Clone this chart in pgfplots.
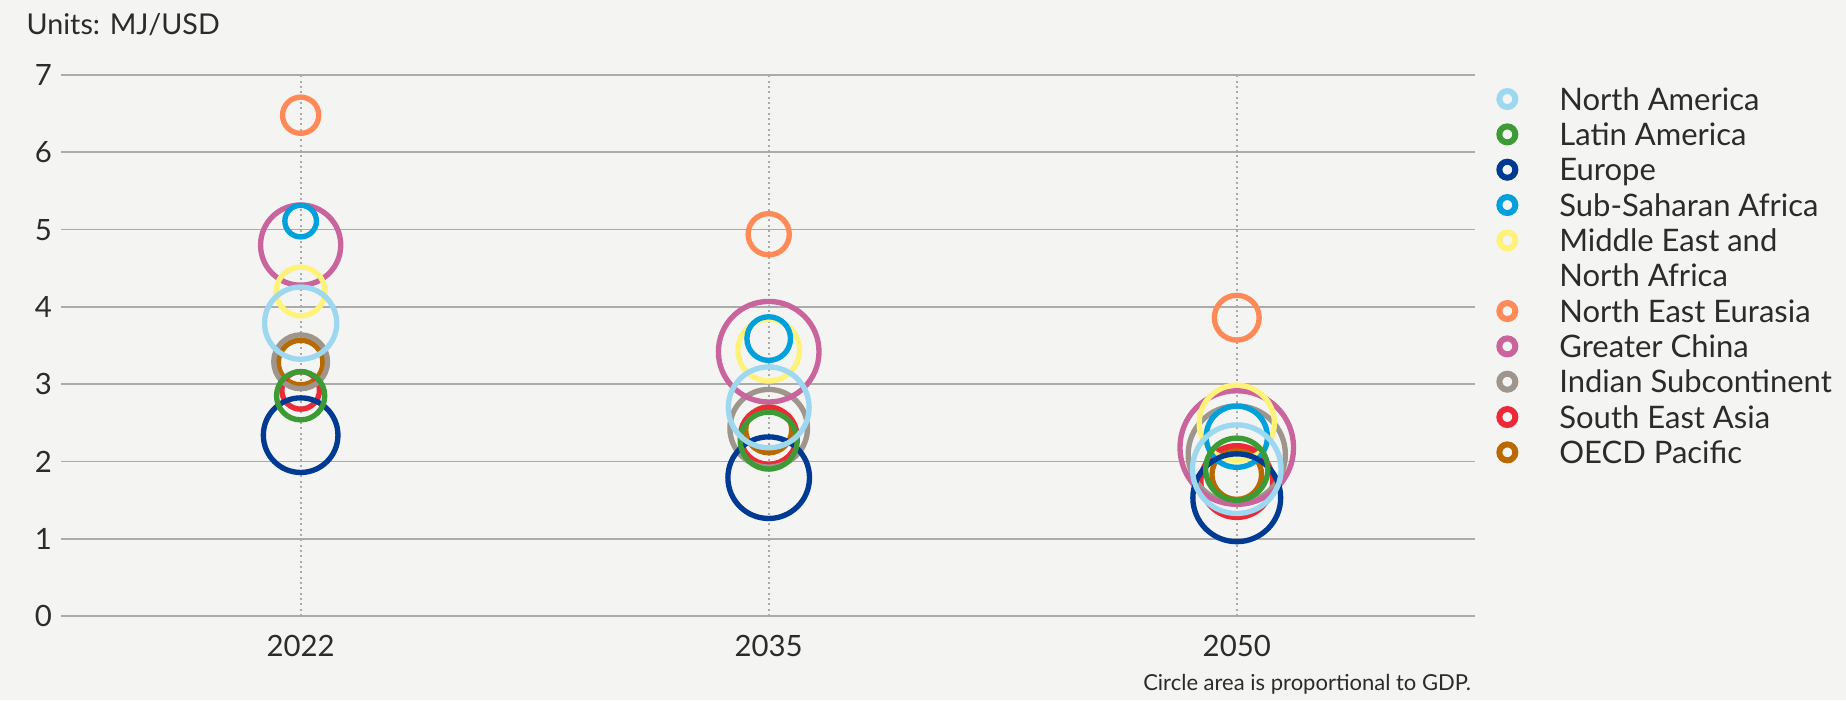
\documentclass[border=0pt]{standalone}
\usepackage{pgfplots}
\pgfplotsset{compat=1.18}
\usepackage{pgfplotstable}
\usepackage{fontspec}
\setmainfont{Lato}

\definecolor{bg}{HTML}{F4F4F2}
\definecolor{txt}{HTML}{2B2B2B}
\definecolor{gridc}{HTML}{ABABAB}
\definecolor{cNA}{HTML}{9DD8F0}
\definecolor{cLA}{HTML}{3D9B35}
\definecolor{cEU}{HTML}{003A93}
\definecolor{cSSA}{HTML}{00A0DD}
\definecolor{cMENA}{HTML}{FFF27A}
\definecolor{cNEE}{HTML}{FF8A57}
\definecolor{cGC}{HTML}{C9649C}
\definecolor{cIND}{HTML}{9E958C}
\definecolor{cSEA}{HTML}{EC2A37}
\definecolor{cOECD}{HTML}{B86A00}

% x: 0 = 2022, 1 = 2035, 2 = 2050; y in MJ/USD; r = circle radius (px of the reference)
\pgfplotstableread{
x y r
0 3.79 36.1
1 2.70 40.4
2 1.90 44.3
}\tNA
\pgfplotstableread{
x y r
0 2.85 24.1
1 2.27 28.5
2 1.90 31.1
}\tLA
\pgfplotstableread{
x y r
0 2.34 37.3
1 1.79 40.8
2 1.53 43.9
}\tEU
\pgfplotstableread{
x y r
0 5.11 15.8
1 3.59 21.8
2 2.32 30.6
}\tSSA
\pgfplotstableread{
x y r
0 4.20 24.4
1 3.44 30.8
2 2.50 37.6
}\tMENA
\pgfplotstableread{
x y r
0 6.48 18.1
1 4.94 20.6
2 3.86 22.4
}\tNEE
\pgfplotstableread{
x y r
0 4.80 40.1
1 3.42 50.3
2 2.18 56.8
}\tGC
\pgfplotstableread{
x y r
0 3.29 26.9
1 2.43 38.8
2 2.09 48.6
}\tIND
\pgfplotstableread{
x y r
0 2.92 18.8
1 2.33 28.3
2 1.74 35.9
}\tSEA
\pgfplotstableread{
x y r
0 3.28 22.3
1 2.41 23.0
2 1.83 24.8
}\tOECD

\pgfplotsset{
  bubble/.style={scatter, only marks, mark=o, point meta=y, forget plot,
    scatter/use mapped color={draw=#1, fill=none},
    visualization depends on={0.3*\thisrow{r} \as \perpointmarksize},
    scatter/@pre marker code/.append style={/tikz/mark size=\perpointmarksize},
    mark options={line width=1.6pt}},
  legimg/.style={legend image code/.code={
    \draw[mark=o, mark size=2.4pt, line width=1.8pt, #1] plot coordinates {(0pt,0pt)};}},
}

\begin{document}
\begin{tikzpicture}
% 1 px of the reference = 0.3pt
\fill[bg] (-18.3pt,-25.2pt) rectangle (535.5pt,184.8pt);
\begin{axis}[
  at={(0,0)}, anchor=south west, scale only axis,
  width=424.2pt, height=162.3pt,
  xmin=-0.512, xmax=2.509, ymin=0, ymax=7,
  xtick={0,1,2}, xticklabels={2022,2035,2050},
  ytick={0,1,...,7},
  axis line style={draw=none},
  major tick length=0pt,
  xmajorgrids, ymajorgrids,
  x grid style={gridc, line width=0.6pt, dash pattern=on 0.6pt off 1pt},
  y grid style={gridc, line width=0.5pt},
  tick label style={font=\fontsize{8.8}{10}\selectfont, text=txt},
  /pgf/number format/assume math mode=true,
  xticklabel style={anchor=north, inner sep=0pt, yshift=-5.5pt},
  yticklabel style={anchor=east, inner sep=0pt, xshift=-2.5pt},
  clip=false,
  legend cell align=left,
  legend style={at={(1,1)}, anchor=north west, xshift=7.3pt, yshift=-1.9pt,
    draw=none, fill=none, inner sep=0pt, outer sep=0pt, row sep=0pt,
    font=\fontsize{9.3}{11}\selectfont, text=txt,
    nodes={inner sep=0pt, text height=8.6pt, text depth=2pt},
    /tikz/every odd column/.append style={column sep=13.2pt}},
]
\addlegendimage{legimg=cNA}   \addlegendentry{North America}
\addlegendimage{legimg=cLA}   \addlegendentry{Latin America}
\addlegendimage{legimg=cEU}   \addlegendentry{Europe}
\addlegendimage{legimg=cSSA}  \addlegendentry{Sub-Saharan Africa}
\addlegendimage{legimg=cMENA} \addlegendentry{Middle East and}
\addlegendimage{empty legend} \addlegendentry{North Africa}
\addlegendimage{legimg=cNEE}  \addlegendentry{North East Eurasia}
\addlegendimage{legimg=cGC}   \addlegendentry{Greater China}
\addlegendimage{legimg=cIND}  \addlegendentry{Indian Subcontinent}
\addlegendimage{legimg=cSEA}  \addlegendentry{South East Asia}
\addlegendimage{legimg=cOECD} \addlegendentry{OECD Pacific}

% drawn in reverse legend order, North America on top
\addplot[bubble=cOECD] table {\tOECD};
\addplot[bubble=cSEA]  table {\tSEA};
\addplot[bubble=cIND]  table {\tIND};
\addplot[bubble=cGC]   table {\tGC};
\addplot[bubble=cNEE]  table {\tNEE};
\addplot[bubble=cMENA] table {\tMENA};
\addplot[bubble=cSSA]  table {\tSSA};
\addplot[bubble=cEU]   table {\tEU};
\addplot[bubble=cLA]   table {\tLA};
\addplot[bubble=cNA]   table {\tNA};
\end{axis}
\node[anchor=base west, inner sep=0pt, font=\fontsize{8.6}{10}\selectfont, text=txt]
  at (-10.5pt,174.5pt) {Units: MJ/USD};
\node[anchor=base east, inner sep=0pt, font=\fontsize{6.6}{8}\selectfont, text=txt]
  at (423.2pt,-22.4pt) {Circle area is proportional to GDP.};
\end{tikzpicture}
\end{document}
